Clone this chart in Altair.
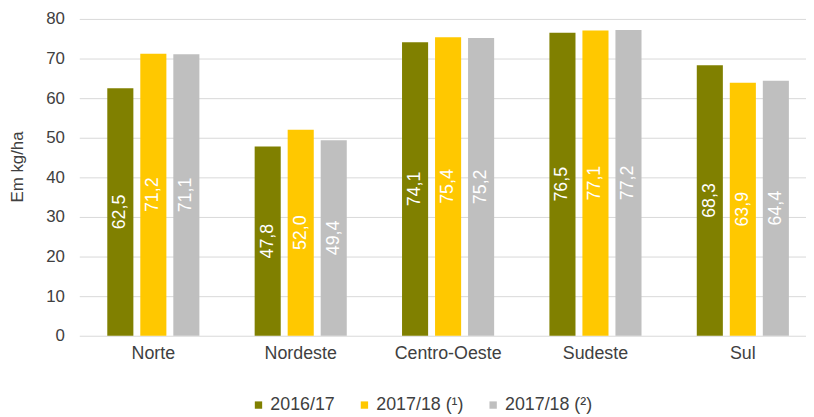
import altair as alt
import pandas as pd

regions = ["Norte", "Nordeste", "Centro-Oeste", "Sudeste", "Sul"]
series = ["2016/17", "2017/18 (¹)", "2017/18 (²)"]
v_2016_17 = [62.5, 47.8, 74.1, 76.5, 68.3]
v_2017_18_1 = [71.2, 52.0, 75.4, 77.1, 63.9]
v_2017_18_2 = [71.1, 49.4, 75.2, 77.2, 64.4]
y_ticks = [0, 10, 20, 30, 40, 50, 60, 70, 80]
colors = ["#808000", "#FFC800", "#BFBFBF"]

rows = []
for s, vals in zip(series, [v_2016_17, v_2017_18_1, v_2017_18_2]):
    for r, v in zip(regions, vals):
        rows.append({"regiao": r, "safra": s, "valor": v,
                     "rotulo": f"{v:.1f}".replace(".", ",")})
df = pd.DataFrame(rows)

FONT = "Liberation Sans"

x = alt.X("regiao:N", sort=regions, title=None,
          scale=alt.Scale(range=[0, 745], paddingInner=0.375, paddingOuter=0.19),
          axis=alt.Axis(labelAngle=0, labelFontSize=18, labelColor="#404040",
                        labelFont=FONT, ticks=False, domain=False, labelPadding=9,
                        grid=False))
xo = alt.XOffset("safra:N", sort=series,
                 scale=alt.Scale(paddingInner=0.21, paddingOuter=0))

y_axis = alt.Axis(values=y_ticks, title="Em kg/ha", labelOverlap=False,
                  labelFontSize=17, labelColor="#404040", labelFont=FONT,
                  labelPadding=15, ticks=False, domain=False,
                  grid=True, gridColor="#D9D9D9", gridWidth=1,
                  titleFontSize=17, titleFontWeight="normal",
                  titleColor="#404040", titleFont=FONT,
                  titleAngle=270, titleX=-62, titleY=149,
                  titleAlign="center", titleBaseline="middle")
y_scale = alt.Scale(domain=[0, 80], nice=False)

base = alt.Chart(df)

bars = base.mark_bar().encode(
    x=x,
    xOffset=xo,
    y=alt.Y("valor:Q", scale=y_scale, axis=y_axis),
    color=alt.Color("safra:N", sort=series,
                    scale=alt.Scale(domain=series, range=colors),
                    legend=alt.Legend(title=None, orient="none", direction="horizontal",
                                      legendX=172, legendY=381,
                                      symbolType="square", symbolSize=55,
                                      symbolStrokeWidth=0, labelFontSize=18,
                                      labelFont=FONT, labelColor="#404040",
                                      labelOffset=3, columnPadding=20)),
)

labels = base.transform_calculate(mid="datum.valor / 2").mark_text(
    angle=270, color="white", fontSize=18, font=FONT,
    align="center", baseline="middle"
).encode(
    x=x,
    xOffset=xo,
    y=alt.Y("mid:Q", scale=y_scale, axis=y_axis),
    text="rotulo:N",
)

chart = alt.layer(bars, labels).properties(
    width=734, height=320,
    autosize=alt.AutoSizeParams(type="none"),
    padding={"left": 72, "top": 9, "right": 0, "bottom": 80},
).configure_view(stroke=None)

chart.save("out.html", embed_options={"renderer": "svg", "actions": False})
